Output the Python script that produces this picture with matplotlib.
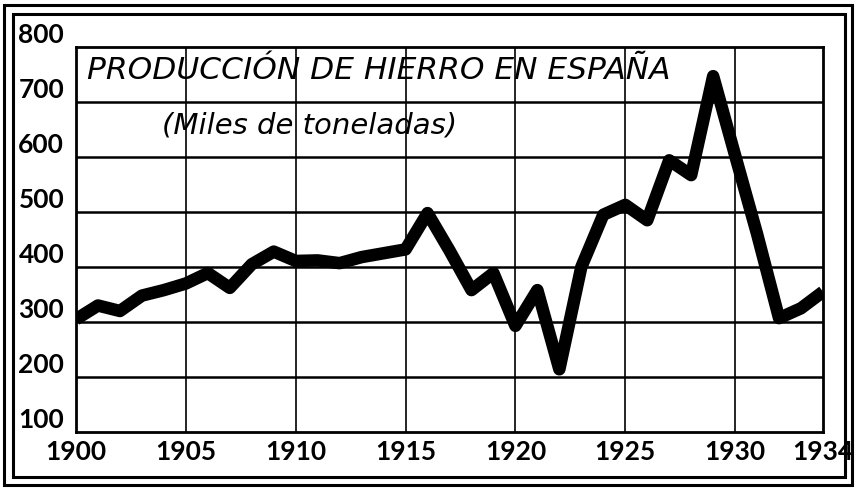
import matplotlib
matplotlib.use("Agg")
import matplotlib.pyplot as plt
from matplotlib.patches import Rectangle

years = list(range(1900, 1935))
production = [305, 330, 320, 348, 358, 370, 389, 362, 405, 428,
              411, 412, 407, 418, 425, 432, 498, 430, 358, 389,
              293, 358, 214, 400, 495, 513, 485, 594, 567, 747,
              603, 460, 307, 325, 355]
x_ticks = [1900, 1905, 1910, 1915, 1920, 1925, 1930, 1934]
y_ticks = [100, 200, 300, 400, 500, 600, 700, 800]
title = "PRODUCCIÓN DE HIERRO EN ESPAÑA"
subtitle = "(Miles de toneladas)"

fig = plt.figure(figsize=(8.56, 4.91), dpi=100)
fig.patch.set_facecolor("white")
ax = fig.add_axes([76/856, 1-432/491, (823-76)/856, (432-47)/491])

ax.set_xlim(1900, 1934)
ax.set_ylim(100, 800)
ax.set_xticks(x_ticks)
ax.set_yticks(y_ticks)
ax.set_xticklabels([str(v) for v in x_ticks], family="Lato", weight="bold")
ax.set_yticklabels([str(v) for v in y_ticks], family="Lato", weight="bold")
ax.tick_params(length=0, labelsize=19, pad=6)
ax.tick_params(axis="y", pad=8.5)
for lbl in ax.get_yticklabels():
    lbl.set_verticalalignment("bottom")

for s in ax.spines.values():
    s.set_linewidth(2.0)
    s.set_color("black")

for yv in y_ticks[1:-1]:
    ax.axhline(yv, color="black", lw=1.8, zorder=1)
for xv in x_ticks[1:-1]:
    ax.axvline(xv, color="black", lw=1.2, zorder=1)

ax.plot(years, production, color="black", lw=9, solid_joinstyle="round",
        solid_capstyle="butt", zorder=3)

ax.text(1900.5, 758, title, fontsize=22.5, style="italic", va="center",
        ha="left", family="DejaVu Sans", zorder=4)
ax.text(1903.9, 658, subtitle, fontsize=21, style="italic", va="center",
        ha="left", family="DejaVu Sans", zorder=4)

# double frame around the figure
W, H = 856, 491
fig.add_artist(Rectangle((4/W, 1-485/H), (852-4)/W, (485-5)/H,
                         transform=fig.transFigure, fill=False,
                         lw=2.2, ec="black"))
fig.add_artist(Rectangle((13/W, 1-477/H), (845-13)/W, (477-14)/H,
                         transform=fig.transFigure, fill=False,
                         lw=2.2, ec="black"))

fig.savefig("out.png", dpi=100)
